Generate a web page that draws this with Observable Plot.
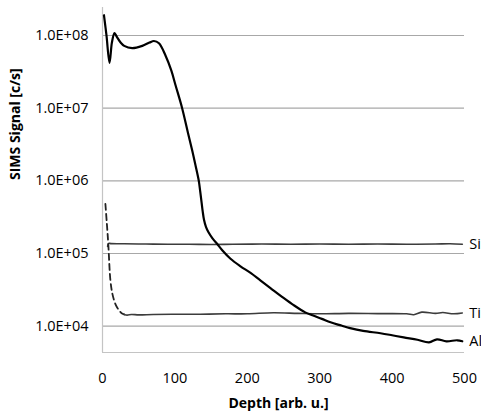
<!DOCTYPE html>
<html>
<head>
<meta charset="utf-8">
<script src="https://cdn.jsdelivr.net/npm/d3@7"></script>
<script src="https://cdn.jsdelivr.net/npm/@observablehq/plot@0.6"></script>
<style>
  html, body { margin: 0; padding: 0; background: #fff; }
  #chart { width: 481px; height: 414px; }
</style>
</head>
<body>
<div id="chart"></div>
<script>
// Al (black, thick)
const alDepth = [2, 5.5, 9.7, 13, 16.6, 20, 25, 30, 41, 55, 65, 71, 78, 87, 95, 101, 110, 118, 124, 128.5, 133, 135, 136.8, 138.4, 140.2, 142.9, 146.4, 151.9, 158.8, 165.7, 176.8, 190.6, 205, 218, 232, 248, 264, 280, 290, 303, 315, 330, 342, 360, 384, 400, 416, 435, 451, 462, 475, 490, 497];
const alValue = [1.9e8, 1.0e8, 4.2e7, 8.0e7, 1.08e8, 9.5e7, 8.0e7, 7.2e7, 6.7e7, 7.2e7, 8.0e7, 8.4e7, 7.8e7, 5.3e7, 3.3e7, 2.05e7, 1.0e7, 4.6e6, 2.6e6, 1.63e6, 1.0e6, 7.1e5, 5.1e5, 3.8e5, 2.91e5, 2.33e5, 1.96e5, 1.62e5, 1.34e5, 1.1e5, 8.46e4, 6.67e4, 5.37e4, 4.27e4, 3.35e4, 2.54e4, 1.95e4, 1.55e4, 1.41e4, 1.26e4, 1.13e4, 1.02e4, 9.4e3, 8.6e3, 8.0e3, 7.5e3, 7.0e3, 6.5e3, 6.0e3, 6.6e3, 6.2e3, 6.4e3, 6.2e3];

// Si
const siDepth = [7, 8.5, 12, 30, 60, 90, 120, 150, 180, 220, 260, 300, 340, 380, 420, 460, 480, 497];
const siValue = [1.25e5, 1.38e5, 1.37e5, 1.36e5, 1.35e5, 1.34e5, 1.34e5, 1.33e5, 1.34e5, 1.35e5, 1.34e5, 1.35e5, 1.34e5, 1.35e5, 1.34e5, 1.35e5, 1.36e5, 1.34e5];

// Ti (dashed start, then solid)
const tiDashDepth = [4, 6, 8, 11, 14, 18, 22, 26, 30];
const tiDashValue = [4.8e5, 2.6e5, 1.35e5, 4.2e4, 2.7e4, 2.0e4, 1.7e4, 1.52e4, 1.45e4];
const tiDepth = [30, 34, 40, 50, 70, 100, 135, 170, 200, 236, 270, 300, 340, 380, 420, 430, 441, 460, 470, 485, 497];
const tiValue = [1.45e4, 1.42e4, 1.45e4, 1.43e4, 1.45e4, 1.46e4, 1.46e4, 1.48e4, 1.48e4, 1.53e4, 1.5e4, 1.48e4, 1.5e4, 1.49e4, 1.48e4, 1.44e4, 1.56e4, 1.5e4, 1.54e4, 1.48e4, 1.52e4];

const seriesLabels = ["Si", "Ti", "Al"];
const xTicks = [0, 100, 200, 300, 400, 500];
const yTicks = [1e4, 1e5, 1e6, 1e7, 1e8];
const xLabel = "Depth [arb. u.]";
const yLabel = "SIMS Signal [c/s]";

const zip = (xs, ys) => xs.map((x, i) => ({x, y: ys[i]}));
const al = zip(alDepth, alValue);
const si = zip(siDepth, siValue);
const tiDash = zip(tiDashDepth, tiDashValue);
const ti = zip(tiDepth, tiValue);
const ends = [
  {label: seriesLabels[0], ...si[si.length - 1]},
  {label: seriesLabels[1], ...ti[ti.length - 1]},
  {label: seriesLabels[2], ...al[al.length - 1]}
];

const yMin = Math.pow(10, 3.638), yMax = Math.pow(10, 8.385);
const fmt = v => "1.0E+" + String(Math.round(Math.log10(v))).padStart(2, "0");

const chart = Plot.plot({
  width: 481,
  height: 414,
  marginLeft: 102,
  marginRight: 17,
  marginTop: 7,
  marginBottom: 62,
  style: {fontFamily: "'Open Sans', sans-serif", fontSize: "14.5px", color: "#000", background: "#fff"},
  x: {domain: [0, 500]},
  y: {type: "log", domain: [yMin, yMax]},
  marks: [
    Plot.ruleY(yTicks, {stroke: "#a8a8a8", strokeWidth: 1.2}),
    Plot.ruleX([0], {stroke: "#c4c4c4", strokeWidth: 1.2}),
    Plot.ruleY([yMin], {stroke: "#c4c4c4", strokeWidth: 1.2}),
    Plot.axisX({ticks: xTicks, tickSize: 0, tickPadding: 20, fontSize: 14.5, label: null}),
    Plot.axisY({ticks: yTicks, tickSize: 0, tickPadding: 14, tickFormat: fmt, fontSize: 14.5, label: null}),
    Plot.line(si, {x: "x", y: "y", stroke: "#3c3c3c", strokeWidth: 1.6, curve: "catmull-rom"}),
    Plot.line(tiDash, {x: "x", y: "y", stroke: "#222", strokeWidth: 1.8, strokeDasharray: "6,4", curve: "catmull-rom"}),
    Plot.line(ti, {x: "x", y: "y", stroke: "#3c3c3c", strokeWidth: 1.6, curve: "catmull-rom"}),
    Plot.line(al, {x: "x", y: "y", stroke: "#000", strokeWidth: 2.2, curve: "catmull-rom"}),
    Plot.text(ends, {x: "x", y: "y", text: "label", dx: 7, textAnchor: "start", fontSize: 14.5, fill: "#000"}),
    Plot.text([xLabel], {frameAnchor: "bottom", dy: 55, dx: -5, fontWeight: "bold", fontSize: 14, fill: "#000"}),
    Plot.text([yLabel], {frameAnchor: "left", dx: -87, rotate: -90, fontWeight: "bold", fontSize: 14, fill: "#000"})
  ]
});
document.getElementById("chart").appendChild(chart);
</script>
</body>
</html>
